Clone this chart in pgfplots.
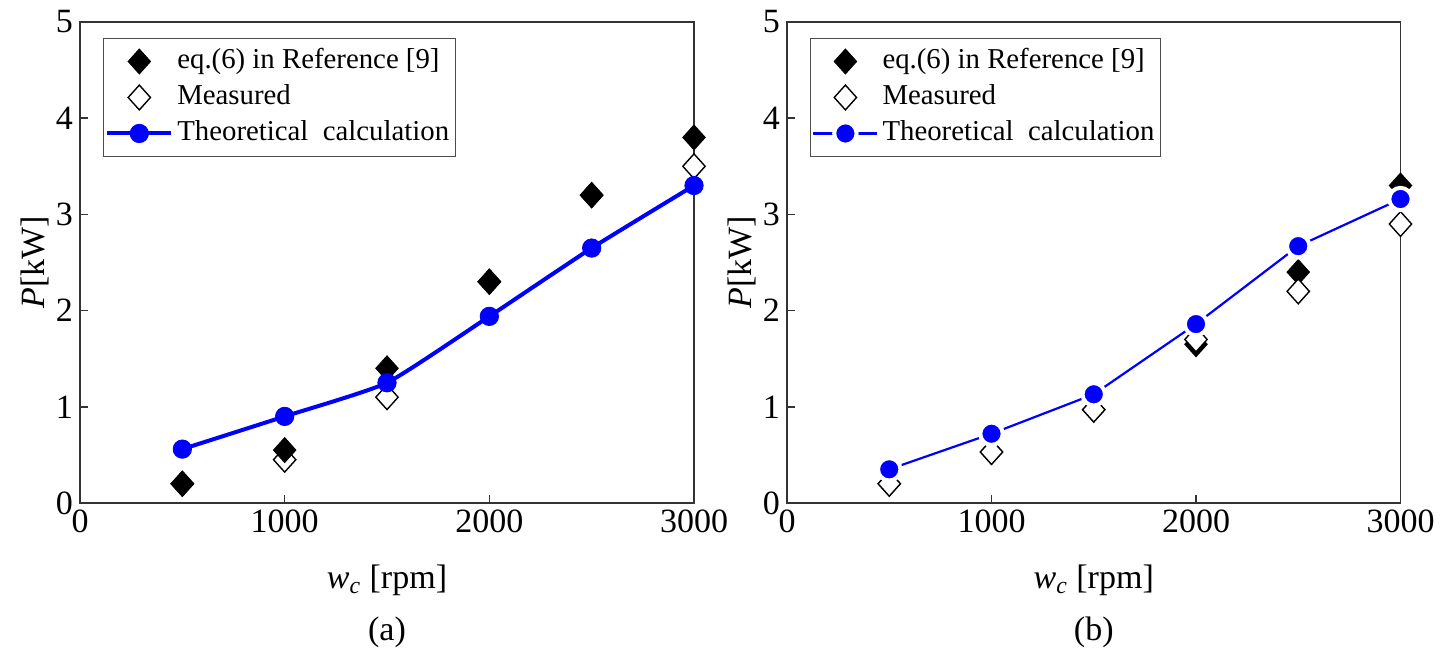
\documentclass[border=0pt]{standalone}
\usepackage{fontspec}
\setmainfont{Liberation Serif}
\usepackage{pgfplots}
\pgfplotsset{compat=1.18}
\definecolor{mblue}{RGB}{0,0,255}
\pgfplotsset{
 myax/.style={
  scale only axis, width=307pt, height=240.5pt,
  xmin=0,xmax=3000,ymin=0,ymax=5,
  xtick={0,1000,2000,3000}, ytick={0,1,2,3,4,5},
  tick align=inside, xtick pos=bottom, ytick pos=left,
  major tick length=4pt,
  axis line style={black!80, line width=0.8pt},
  every tick/.style={black!80, line width=0.8pt},
  tick label style={font=\fontsize{17}{20}\selectfont},
  /pgf/number format/assume math mode=true,
  /pgf/number format/1000 sep={},
  label style={font=\fontsize{17}{20}\selectfont},
  xlabel={\textit{w}\textsubscript{\textit{c}} [rpm]},
  ylabel={\textit{P}[kW]},
  xlabel style={at={(rel axis cs:0.5,-0.16)}, anchor=center},
  ylabel style={at={(rel axis cs:-0.073,0.5)}, anchor=center},
  legend style={at={(rel axis cs:0.037,0.967)}, anchor=north west, draw=black!70, line width=0.6pt,
    font=\fontsize{14.4}{17}\selectfont, inner xsep=1pt, inner ysep=2.5pt, row sep=0pt,
    nodes={inner ysep=1.75pt, text height=11pt,text depth=3.5pt}},
  legend cell align=left,
  clip mode=individual,
 },
 fdia/.style={only marks, mark=diamond*, mark size=6.2pt, mark options={xscale=1.2, fill=black, draw=black, line width=0.5pt}},
 odia/.style={only marks, mark=diamond*, mark size=6.2pt, mark options={xscale=1.2, fill=white, draw=black, line width=0.7pt}},
 limg/.style={legend image code/.code={\draw[mark repeat=2,mark phase=2,##1] plot coordinates {(0pt,0pt) (16pt,0pt) (32pt,0pt)};}},
}
\begin{document}
\begin{tikzpicture}[x=1pt,y=1pt]
\begin{axis}[myax, at={(40pt,74.5pt)}, anchor=origin,
  after end axis/.code={\node[font=\fontsize{17}{20}\selectfont] at (rel axis cs:0.5,-0.268) {(a)};}]
\addplot[odia, forget plot] coordinates {(500,0.2) (1000,0.45) (1500,1.1) (2000,2.3) (2500,3.2) (3000,3.5)};
\addplot[fdia, limg] coordinates {(500,0.2) (1000,0.55) (1500,1.4) (2000,2.3) (2500,3.2) (3000,3.8)};
\addlegendentry{eq.(6) in Reference [9]}
\addlegendimage{odia, limg}
\addlegendentry{Measured}
\addplot[mblue, line width=2pt, smooth, tension=0.3, mark=*, mark size=4.6pt, mark options={solid, fill=mblue, draw=mblue, line width=0.4pt}, limg] coordinates {(500,0.56) (1000,0.90) (1500,1.25) (2000,1.94) (2500,2.65) (3000,3.30)};
\addlegendentry{Theoretical\ \ calculation}
\end{axis}
\begin{axis}[myax, at={(393.5pt,74.5pt)}, anchor=origin, width=306.75pt,
  after end axis/.code={\node[font=\fontsize{17}{20}\selectfont] at (rel axis cs:0.5,-0.268) {(b)};}]
\addplot[fdia, limg] coordinates {(500,0.2) (1000,0.53) (1500,0.97) (2000,1.65) (2500,2.4) (3000,3.3)};
\addlegendentry{eq.(6) in Reference [9]}
\addplot[odia, limg] coordinates {(500,0.2) (1000,0.53) (1500,0.97) (2000,1.70) (2500,2.2) (3000,2.9)};
\addlegendentry{Measured}
\addplot[mblue, line width=1.1pt, mark=*, mark size=5.6pt, mark options={solid, fill=mblue, draw=white, line width=2pt}, limg] coordinates {(500,0.35) (1000,0.72) (1500,1.13) (2000,1.86) (2500,2.67) (3000,3.16)};
\addlegendentry{Theoretical\ \ calculation}
\end{axis}
\pgfresetboundingbox
\path[use as bounding box] (0pt,0pt) rectangle (726pt,326pt);
\end{tikzpicture}
\end{document}
